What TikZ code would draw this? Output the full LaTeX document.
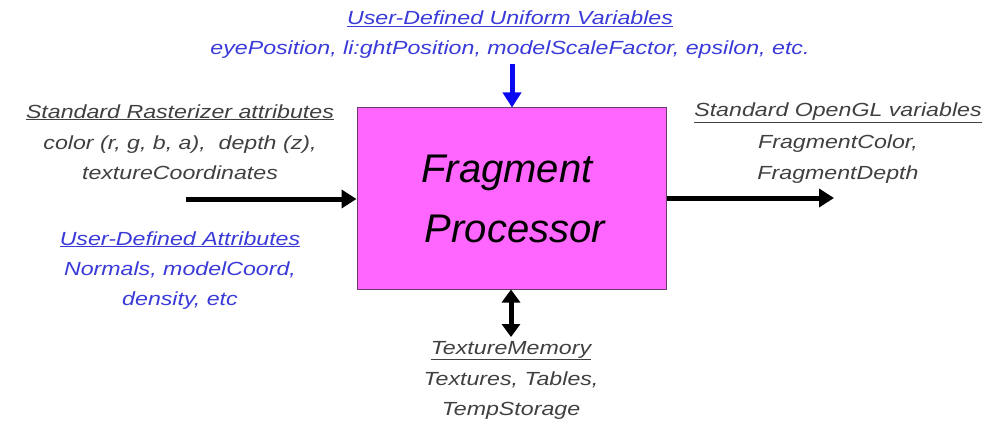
\documentclass[tikz,border=0pt]{standalone}
\usepackage{fontspec}
\setmainfont{Liberation Sans}
\newfontfamily\widefont{Liberation Sans}[FakeStretch=1.22]
\usetikzlibrary{arrows.meta}
\definecolor{procfill}{HTML}{FF66FF}
\definecolor{procedge}{HTML}{6A3A6A}
\definecolor{labgray}{HTML}{404040}
\definecolor{labblue}{HTML}{3A3AD8}
\definecolor{flowblue}{HTML}{0A0AF0}
\tikzset{
  lab/.style={font=\widefont\fontsize{19}{21}\selectfont\itshape, inner sep=0pt, anchor=base},
  gray lab/.style={lab, text=labgray},
  blue lab/.style={lab, text=labblue},
  title lab/.style={font=\fontsize{40}{44}\selectfont\itshape, anchor=base, inner sep=0pt},
  flow/.style={line width=5pt, -{Triangle[length=15pt,width=18pt]}},
  flow2/.style={line width=5pt, {Triangle[length=13pt,width=18pt]}-{Triangle[length=13pt,width=18pt]}},
}
\begin{document}
\begin{tikzpicture}[x=1pt,y=-1pt]
\useasboundingbox (0,0) rectangle (987,425);
% central processor box
\node (proc) [draw=procedge, fill=procfill, line width=1pt, minimum width=309pt,
  minimum height=181pt, inner sep=0pt] at (511.5,198.5) {};
\node (procA) [title lab] at (507,182) {Fragment};
\node (procB) [title lab] at (515,242) {Processor};
% uniform inputs from above
\node (uniT) [blue lab] at (510,25) {\underline{User-Defined Uniform Variables}};
\node (uniB) [blue lab] at (510,55) {eyePosition, li:ghtPosition, modelScaleFactor, epsilon, etc.};
\coordinate (uniS) at (512,64);
\draw[flow, flowblue] (uniS) -- (proc.north -| uniS);
% rasterizer inputs from the left
\node (rasT) [gray lab] at (180,118) {\underline{Standard Rasterizer attributes}};
\node (rasA) [gray lab] at (180,149) {color (r, g, b, a),\ \ depth (z),};
\node (rasB) [gray lab] at (180,179) {textureCoordinates};
\coordinate (inS) at (186,199);
\draw[flow] (inS) -- (proc.west |- inS);
\node (udaT) [blue lab] at (180,245) {\underline{User-Defined Attributes}};
\node (udaA) [blue lab] at (180,275) {Normals, modelCoord,};
\node (udaB) [blue lab] at (180,305) {density, etc};
% outputs to the right
\node (outT) [gray lab] at (838,117) {\underline{Standard OpenGL variables}};
\node (outA) [gray lab] at (838,148) {FragmentColor,};
\node (outB) [gray lab] at (838,179) {FragmentDepth};
\coordinate (outE) at (834,198);
\draw[flow] (proc.east |- outE) -- (outE);
% texture memory below
\node (texT) [gray lab] at (511,354) {\underline{TextureMemory}};
\node (texA) [gray lab] at (511,385) {Textures, Tables,};
\node (texB) [gray lab] at (511,415) {TempStorage};
\coordinate (texS) at (511,337);
\draw[flow2] (proc.south -| texS) -- (texS);
\end{tikzpicture}
\end{document}
